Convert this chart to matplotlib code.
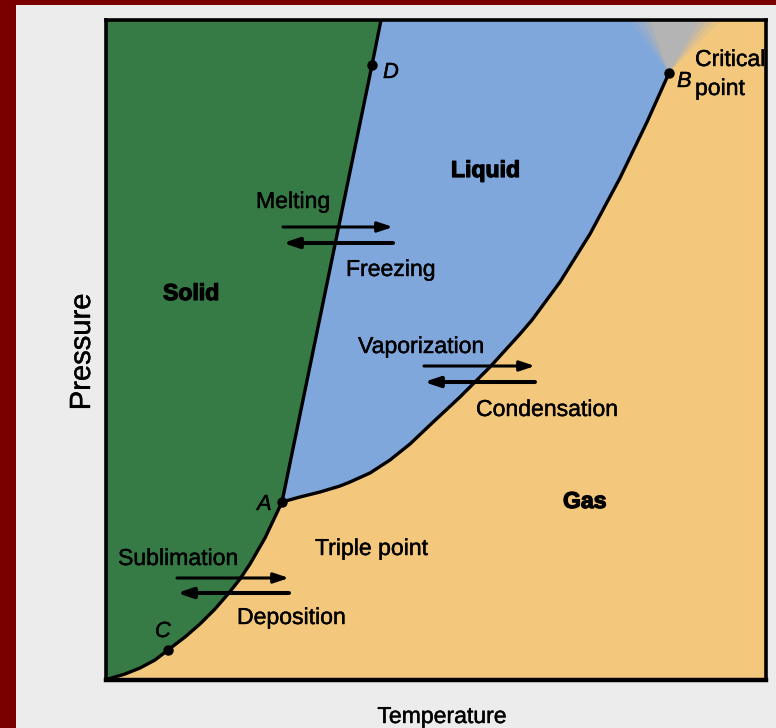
import matplotlib
matplotlib.use("Agg")
import matplotlib.pyplot as plt
import matplotlib.patheffects as pe
from matplotlib import font_manager as fm
from matplotlib.patches import Rectangle, Polygon

# ---------------- data (pixel-like units) ----------------
# melting (solid-liquid) line: from triple point A up through D to top
melt_T = [282, 372, 381]
melt_P = [502, 65, 20]
# vaporization (liquid-gas) curve: A -> B (critical point)
vap_T = [282, 300, 320, 340, 350, 370, 390, 410, 430, 460, 490, 520, 532,
         560, 590, 620, 647, 669]
vap_P = [502, 497, 492, 486, 482, 473, 460, 444, 425, 397, 367, 334, 320,
         282, 234, 178, 122, 73]
# sublimation (solid-gas) curve: origin -> C -> A
sub_T = [108, 125, 140, 155, 168, 185, 200, 215, 228, 240, 250, 265, 282]
sub_P = [679, 674, 668, 660, 650, 637, 624, 609, 594, 579, 564, 538, 502]
# critical region wedge above B
crit_T = [650, 700, 669]
crit_P = [20, 20, 73]

point_names = ["A", "B", "C", "D"]
point_T = [282, 669, 168, 372]
point_P = [502, 73, 650, 65]

region_names = ["Solid", "Liquid", "Gas"]
process_names = ["Melting", "Freezing", "Vaporization", "Condensation",
                 "Sublimation", "Deposition"]

# ---------------- fonts ----------------
try:
    fm.findfont("Liberation Sans Narrow", fallback_to_default=False)
    NARROW = "Liberation Sans Narrow"
    nscale = 1.0
except Exception:
    NARROW = "Liberation Sans"
    nscale = 0.85
REG = "Liberation Sans"
FS = 19.5 * nscale
HEAVY = [pe.withStroke(linewidth=0.3, foreground="black")]
BOLDER = [pe.withStroke(linewidth=0.9, foreground="black")]

GREEN = "#367a46"
BLUE = "#7fa7dc"
TAN = "#f3c77c"
GRAY = "#b4b4b4"

W, H = 776, 728
fig = plt.figure(figsize=(W / 100, H / 100), dpi=100, facecolor="#7a0000")
fig.patches.append(Rectangle((16 / W, 0), (W - 16) / W, (H - 5) / H,
                             transform=fig.transFigure, facecolor="#ececec",
                             edgecolor="none", zorder=-10))

L, R, T, B = 106, 766, 20, 680
ax = fig.add_axes([L / W, (H - B) / H, (R - L) / W, (B - T) / H])
ax.set_zorder(5)
ax.set_xlim(L, R)
ax.set_ylim(B, T)
ax.set_facecolor(TAN)
ax.set_xticks([])
ax.set_yticks([])
for s in ax.spines.values():
    s.set_linewidth(2.6)
    s.set_color("black")
ax.spines["bottom"].set_linewidth(3.2)

# solid region
solid_poly = [(L, T)] + list(zip(melt_T[::-1], melt_P[::-1])) + \
    list(zip(sub_T[::-1], sub_P[::-1])) + [(L, B)]
ax.add_patch(Polygon(solid_poly, closed=True, facecolor=GREEN, edgecolor="none", zorder=1))
# liquid region
liq_poly = list(zip(melt_T, melt_P)) + [(crit_T[0], crit_P[0])] + \
    list(zip(vap_T[::-1], vap_P[::-1]))
ax.add_patch(Polygon(liq_poly, closed=True, facecolor=BLUE, edgecolor="none", zorder=1))
# critical gray wedge with soft edges
for grow, a in [(22, 0.2), (14, 0.3), (7, 0.5), (0, 1.0)]:
    pts = [(crit_T[0] - grow, crit_P[0]), (crit_T[1] + grow, crit_P[1]), (crit_T[2], crit_P[2])]
    ax.add_patch(Polygon(pts, closed=True, facecolor=GRAY, edgecolor="none",
                         alpha=a, zorder=2))

# boundaries
lw = 2.4
ax.plot(melt_T, melt_P, color="black", lw=lw, zorder=4, solid_capstyle="butt")
ax.plot(vap_T, vap_P, color="black", lw=lw, zorder=4, solid_joinstyle="round")
ax.plot(sub_T, sub_P, color="black", lw=lw, zorder=4, solid_joinstyle="round")
ax.plot(point_T, point_P, "o", color="black", ms=6.5, zorder=5)

# point letters
letter_pos = {"A": (257, 510), "B": (677, 87), "C": (155, 637), "D": (383, 78)}
for n in point_names:
    x, y = letter_pos[n]
    ax.text(x, y, n, fontsize=FS * 0.95, style="italic", family=NARROW,
            ha="left", va="baseline", zorder=6, path_effects=HEAVY)

ax.text(695, 66, "Critical", fontsize=FS, family=NARROW, ha="left", va="baseline",
        zorder=6, path_effects=HEAVY)
ax.text(695, 95, "point", fontsize=FS, family=NARROW, ha="left", va="baseline",
        zorder=6, path_effects=HEAVY)
ax.text(315, 555, "Triple point", fontsize=FS, family=NARROW, ha="left", va="baseline",
        zorder=6, path_effects=HEAVY)

region_pos = {"Solid": (163, 300), "Liquid": (451, 177), "Gas": (563, 508)}
for n in region_names:
    x, y = region_pos[n]
    ax.text(x, y, n, fontsize=FS, family=NARROW, weight="bold",
            ha="left", va="baseline", zorder=6, path_effects=BOLDER)

proc_pos = {"Melting": (256, 208), "Freezing": (346, 276),
            "Vaporization": (358, 353), "Condensation": (476, 416),
            "Sublimation": (118, 565), "Deposition": (237, 624)}
for n in process_names:
    x, y = proc_pos[n]
    ax.text(x, y, n, fontsize=FS, family=NARROW, ha="left", va="baseline",
            zorder=6, path_effects=HEAVY)

# arrow pairs: (left x, right x, upper y, lower y)
arrow_sets = [(283, 393, 227, 243), (424, 535, 366, 382), (177, 289, 578, 593)]
for x0, x1, yu, yl in arrow_sets:
    ax.annotate("", xy=(x1, yu), xytext=(x0, yu), zorder=7,
                arrowprops=dict(arrowstyle="-|>,head_length=0.9,head_width=0.3",
                                lw=2.2, color="black", shrinkA=0, shrinkB=0,
                                mutation_scale=10))
    ax.annotate("", xy=(x0, yl), xytext=(x1, yl), zorder=7,
                arrowprops=dict(arrowstyle="-|>,head_length=0.9,head_width=0.3",
                                lw=2.9, color="black", shrinkA=0, shrinkB=0,
                                mutation_scale=10))

fig.text(442 / W, (H - 723) / H, "Temperature", fontsize=FS, family=NARROW,
         ha="center", va="baseline", path_effects=HEAVY)
fig.text(82 / W, 1 - 352 / H, "Pressure", fontsize=21, family=REG,
         rotation=90, ha="center", va="center", path_effects=HEAVY)

fig.savefig("out.png", dpi=100, facecolor=fig.get_facecolor())
